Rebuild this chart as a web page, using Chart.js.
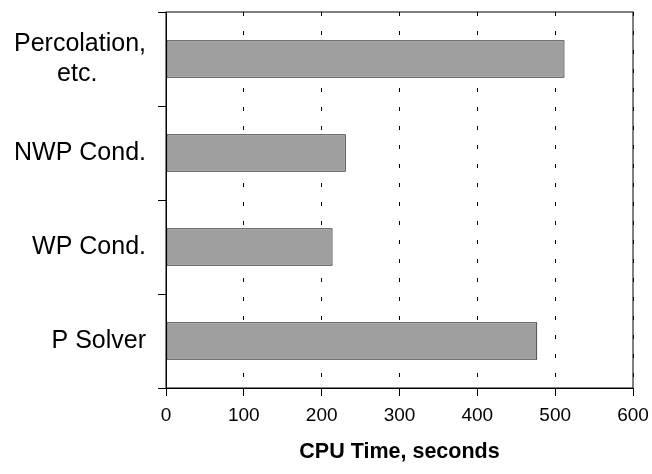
<!DOCTYPE html>
<html>
<head>
<meta charset="utf-8">
<script src="https://cdn.jsdelivr.net/npm/chart.js@4/dist/chart.umd.min.js"></script>
<style>
  body { margin: 0; background: #fff; }
  #wrap { width: 652px; height: 474px; }
</style>
</head>
<body>
<div id="wrap"><canvas id="chart" width="652" height="474"></canvas></div>
<script>
const categories = [['Percolation,', 'etc.       '], 'NWP Cond.', 'WP Cond.', 'P Solver'];
const cpuTimes = [512, 231, 214, 477];
const xTicks = [0, 100, 200, 300, 400, 500, 600];

// box around the plot area (top and right edges)
const frame = {
  id: 'frame',
  afterDraw(chart) {
    const { ctx, chartArea: a } = chart;
    ctx.save();
    ctx.strokeStyle = '#000';
    ctx.lineWidth = 1;
    ctx.strokeRect(a.left, a.top, a.right - a.left, a.bottom - a.top);
    ctx.restore();
  }
};

new Chart(document.getElementById('chart'), {
  type: 'bar',
  data: {
    labels: categories,
    datasets: [{
      data: cpuTimes,
      backgroundColor: '#9f9f9f',
      borderColor: '#000',
      borderWidth: 1,
      borderSkipped: false,
      barPercentage: 0.4,
      categoryPercentage: 1
    }]
  },
  options: {
    indexAxis: 'y',
    responsive: false,
    animation: false,
    layout: { padding: { top: 12, right: 19, bottom: 0, left: 0 } },
    plugins: { legend: { display: false }, tooltip: { enabled: false } },
    scales: {
      x: {
        min: 0,
        max: 600,
        afterBuildTicks(scale) { scale.ticks = xTicks.map(v => ({ value: v })); },
        afterFit(scale) {
          scale.height = 86;
          scale.paddingLeft = 0;
          scale.paddingRight = 0;
        },
        grid: { color: '#000', lineWidth: 1, tickLength: 8, tickColor: '#000' },
        border: { display: true, color: '#000', width: 1, dash: [4, 15] },
        ticks: { color: '#000', padding: 8, font: { family: 'Liberation Sans', size: 19 } },
        title: {
          display: true,
          text: 'CPU Time, seconds',
          color: '#000',
          padding: { top: 4, bottom: 9 },
          font: { family: 'Liberation Sans', size: 21.5, weight: 'bold' }
        }
      },
      y: {
        afterFit(scale) {
          scale.width = 166;
          scale.paddingTop = 0;
          scale.paddingBottom = 0;
        },
        grid: { offset: true, drawOnChartArea: false, color: '#000', tickLength: 8 },
        border: { display: true, color: '#000', width: 1 },
        ticks: { color: '#000', padding: 12, font: { family: 'Liberation Sans', size: 25 } }
      }
    }
  },
  plugins: [frame]
});
</script>
</body>
</html>
